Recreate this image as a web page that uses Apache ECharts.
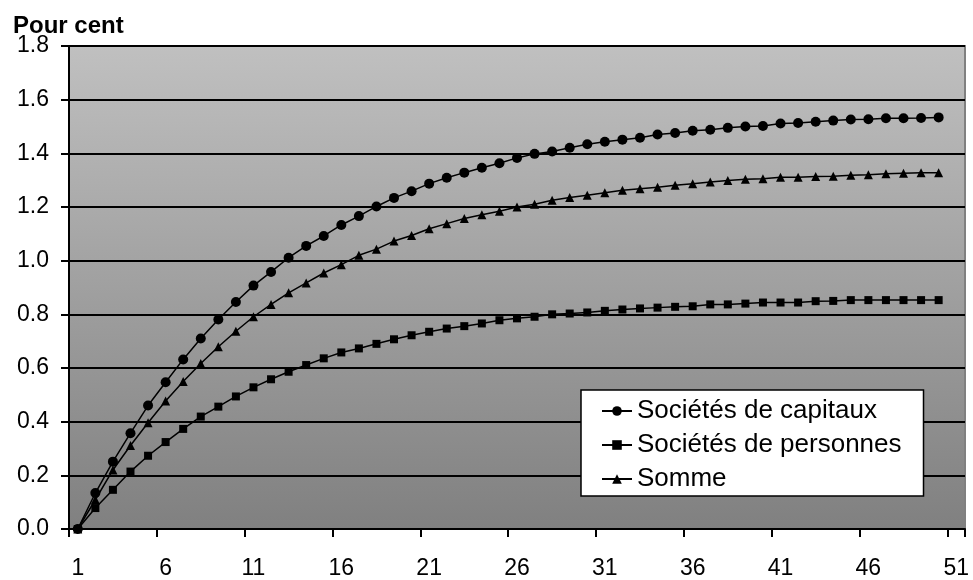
<!DOCTYPE html>
<html>
<head>
<meta charset="utf-8">
<script src="https://cdn.jsdelivr.net/npm/echarts@6/dist/echarts.min.js"></script>
<style>
html,body{margin:0;padding:0;background:#fff;}
#c{width:973px;height:580px;}
</style>
</head>
<body>
<div id="c"></div>
<script>
var categories = [];
for (var i = 1; i <= 51; i++) categories.push(String(i));

var yAxisTitle = 'Pour cent';
var seriesNames = ['Sociétés de capitaux', 'Sociétés de personnes', 'Somme'];

var capitaux = [0, 0.134, 0.251, 0.357, 0.460, 0.547, 0.632, 0.710, 0.781, 0.846,
  0.907, 0.958, 1.011, 1.055, 1.092, 1.133, 1.166, 1.202, 1.234, 1.259,
  1.287, 1.309, 1.328, 1.346, 1.363, 1.383, 1.398, 1.407, 1.421, 1.434,
  1.443, 1.451, 1.458, 1.470, 1.476, 1.484, 1.488, 1.495, 1.500, 1.502,
  1.511, 1.513, 1.518, 1.522, 1.526, 1.527, 1.531, 1.531, 1.532, 1.534];

var personnes = [0, 0.078, 0.146, 0.214, 0.273, 0.324, 0.373, 0.419, 0.456, 0.494,
  0.528, 0.558, 0.586, 0.611, 0.636, 0.658, 0.673, 0.690, 0.707, 0.722,
  0.735, 0.747, 0.756, 0.766, 0.778, 0.785, 0.791, 0.800, 0.803, 0.807,
  0.813, 0.818, 0.822, 0.825, 0.828, 0.830, 0.837, 0.837, 0.840, 0.844,
  0.844, 0.844, 0.849, 0.850, 0.853, 0.853, 0.853, 0.853, 0.853, 0.853];

var somme = [0, 0.109, 0.220, 0.311, 0.396, 0.477, 0.550, 0.617, 0.679, 0.737,
  0.791, 0.837, 0.880, 0.917, 0.954, 0.985, 1.020, 1.043, 1.073, 1.094,
  1.119, 1.138, 1.157, 1.171, 1.184, 1.200, 1.210, 1.225, 1.235, 1.244,
  1.253, 1.262, 1.268, 1.274, 1.281, 1.287, 1.293, 1.299, 1.303, 1.305,
  1.311, 1.311, 1.314, 1.315, 1.318, 1.320, 1.324, 1.326, 1.328, 1.328];

var FONT = '"Liberation Sans", Arial, sans-serif';

function mkSeries(name, data, symbol, size) {
  return {
    name: name, type: 'line', data: data,
    symbol: symbol, symbolSize: size,
    lineStyle: {color: '#000', width: 1.5},
    itemStyle: {color: '#000', borderColor: '#000', borderWidth: 0},
    emphasis: {disabled: true},
    animation: false
  };
}

var chart = echarts.init(document.getElementById('c'), null, {renderer: 'canvas'});
chart.setOption({
  animation: false,
  backgroundColor: '#fff',
  title: {
    text: yAxisTitle, left: 8, top: 9,
    textStyle: {fontFamily: FONT, fontSize: 24, fontWeight: 'bold', color: '#000'}
  },
  grid: {
    left: 69, right: 8, top: 46, bottom: 51,
    show: true,
    borderColor: '#808080', borderWidth: 2,
    backgroundColor: {
      type: 'linear', x: 0, y: 0, x2: 0, y2: 1,
      colorStops: [{offset: 0, color: '#c0c0c0'}, {offset: 1, color: '#808080'}]
    }
  },
  legend: {
    orient: 'vertical',
    left: 581, top: 390,
    padding: [8, 22, 4, 20],
    backgroundColor: '#fff',
    borderColor: '#000', borderWidth: 1.5,
    itemWidth: 30, itemHeight: 12, itemGap: 8,
    textStyle: {fontFamily: FONT, fontSize: 26, color: '#000'},
    data: seriesNames
  },
  xAxis: {
    type: 'category', data: categories, boundaryGap: true,
    axisLine: {show: true, lineStyle: {color: '#000', width: 2}},
    axisTick: {show: true, interval: 4, length: 8, alignWithLabel: false, lineStyle: {color: '#000', width: 2}},
    axisLabel: {interval: 4, margin: 28, fontFamily: FONT, fontSize: 23, color: '#000'},
    splitLine: {show: false}
  },
  yAxis: {
    type: 'value', min: 0, max: 1.8, interval: 0.2,
    axisLine: {show: true, lineStyle: {color: '#000', width: 2}},
    axisTick: {show: true, length: 8, lineStyle: {color: '#000', width: 2}},
    axisLabel: {margin: 20, fontFamily: FONT, fontSize: 23, color: '#000',
      formatter: function (v) { return v.toFixed(1); }},
    splitLine: {show: true, lineStyle: {color: '#000', width: 2}}
  },
  series: [
    mkSeries(seriesNames[0], capitaux, 'circle', 10),
    mkSeries(seriesNames[1], personnes, 'rect', 8),
    mkSeries(seriesNames[2], somme, 'triangle', 9)
  ]
});
</script>
</body>
</html>
